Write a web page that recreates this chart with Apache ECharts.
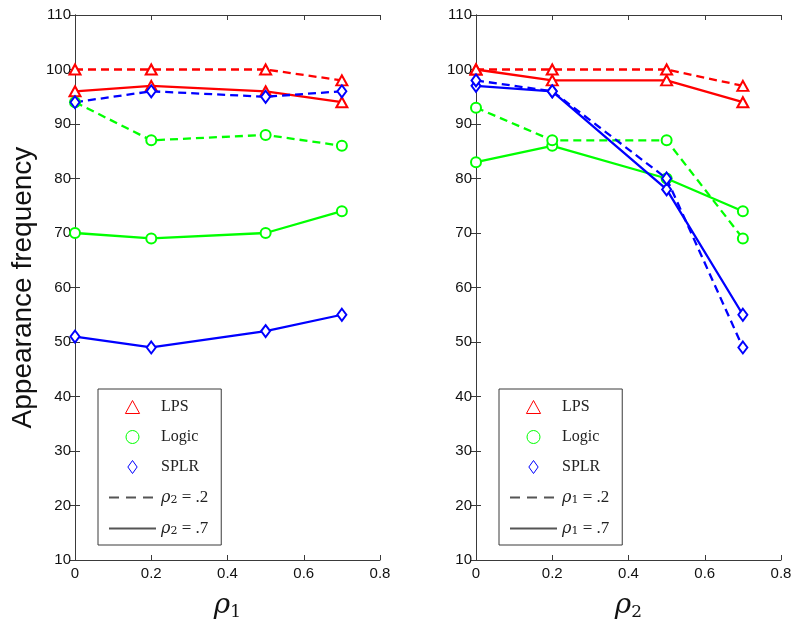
<!DOCTYPE html>
<html>
<head>
<meta charset="utf-8">
<script src="https://cdn.jsdelivr.net/npm/echarts@6/dist/echarts.min.js"></script>
<style>
  html, body { margin: 0; padding: 0; background: #fff; }
  #chart { width: 800px; height: 626px; }
</style>
</head>
<body>
<div id="chart"></div>
<script>
// x positions (rho values)
const xVals = [0, 0.2, 0.5, 0.7];
const xTicks = [0, 0.2, 0.4, 0.6, 0.8];
const yTicks = [10, 20, 30, 40, 50, 60, 70, 80, 90, 100, 110];

// left panel: x = rho1, dashed rho2 = .2, solid rho2 = .7
const lpsLeftDash = [100, 100, 100, 98];
const lpsLeftSolid = [96, 97, 96, 94];
const logicLeftDash = [94, 87, 88, 86];
const logicLeftSolid = [70, 69, 70, 74];
const splrLeftDash = [94, 96, 95, 96];
const splrLeftSolid = [51, 49, 52, 55];

// right panel: x = rho2, dashed rho1 = .2, solid rho1 = .7
const lpsRightDash = [100, 100, 100, 97];
const lpsRightSolid = [100, 98, 98, 94];
const logicRightDash = [93, 87, 87, 69];
const logicRightSolid = [83, 86, 80, 74];
const splrRightDash = [98, 96, 80, 49];
const splrRightSolid = [97, 96, 78, 55];

const RED = '#ff0000', GREEN = '#00ff00', BLUE = '#0000ff';
const AXIS = '#3a3a3a';
const DASH = [8, 5];
const CLEAR = 'rgba(0,0,0,0)';

const methods = [
  {name: 'LPS', color: RED, symbol: 'emptyTriangle', size: [11, 10]},
  {name: 'Logic', color: GREEN, symbol: 'emptyCircle', size: 10},
  {name: 'SPLR', color: BLUE, symbol: 'emptyDiamond', size: [9, 12]}
];

function pairs(ys) {
  return ys.map((y, i) => [xVals[i], y]);
}

function makeSeries(panel, m, ys, dashed) {
  return {
    name: m.name,
    type: 'line',
    xAxisIndex: panel * 2,
    yAxisIndex: panel * 2,
    data: pairs(ys),
    symbol: m.symbol,
    symbolSize: m.size,
    showAllSymbol: true,
    z: dashed ? 3 : 2,
    lineStyle: {color: m.color, width: 2.3, type: dashed ? DASH : 'solid'},
    itemStyle: {color: m.color, borderColor: m.color, borderWidth: 2.3},
    emphasis: {disabled: true}
  };
}

// empty series, only there to give the legend its line-style entries
function dummy(panel, name, dashed) {
  return {
    name: name,
    type: 'line',
    xAxisIndex: panel * 2,
    yAxisIndex: panel * 2,
    data: [],
    symbol: 'none',
    itemStyle: {color: CLEAR, borderColor: CLEAR, borderWidth: 0},
    lineStyle: {color: '#555', width: 1.2, type: dashed ? [10, 7] : 'solid'}
  };
}

const grids = [
  {left: 75, top: 15, width: 305, height: 556},
  {left: 476, top: 15, width: 305, height: 556}
];

function xAxes(panel, label) {
  return [
    {
      type: 'value', gridIndex: panel, min: 0, max: 0.8, interval: 0.2,
      name: label, nameLocation: 'middle', nameGap: 30,
      nameTextStyle: {
        rich: {
          r: {fontFamily: 'DejaVu Serif', fontStyle: 'italic', fontSize: 28, color: '#111'},
          s: {fontFamily: 'DejaVu Serif', fontSize: 17, color: '#111', padding: [14, 0, 0, 0]}
        }
      },
      axisLine: {lineStyle: {color: AXIS, width: 1}},
      axisTick: {inside: true, length: 5, lineStyle: {color: AXIS}},
      splitLine: {show: false},
      axisLabel: {
        margin: 6, fontFamily: 'Liberation Sans', fontSize: 15, color: '#111',
        formatter: v => xTicks.indexOf(+v.toFixed(1)) >= 0 ? String(+v.toFixed(1)) : ''
      }
    },
    {
      type: 'value', gridIndex: panel, position: 'top', min: 0, max: 0.8, interval: 0.2,
      axisLine: {lineStyle: {color: AXIS, width: 1}},
      axisTick: {inside: true, length: 5, lineStyle: {color: AXIS}},
      axisLabel: {show: false},
      splitLine: {show: false}
    }
  ];
}

function yAxes(panel, withName) {
  return [
    {
      type: 'value', gridIndex: panel, min: 10, max: 110, interval: 10,
      name: withName ? 'Appearance frequency' : '',
      nameLocation: 'middle', nameGap: 38,
      nameTextStyle: {fontFamily: 'Liberation Sans', fontSize: 28, color: '#111'},
      axisLine: {lineStyle: {color: AXIS, width: 1}},
      axisTick: {inside: true, length: 5, lineStyle: {color: AXIS}},
      splitLine: {show: false},
      axisLabel: {
        margin: 4, fontFamily: 'Liberation Sans', fontSize: 15, color: '#111',
        formatter: v => yTicks.indexOf(v) >= 0 ? String(v) : ''
      }
    },
    {
      type: 'value', gridIndex: panel, position: 'right', min: 10, max: 110, interval: 10,
      axisLine: {show: true, lineStyle: {color: AXIS, width: 1}},
      axisTick: {show: true, inside: true, length: 5, lineStyle: {color: AXIS}},
      axisLabel: {show: false},
      splitLine: {show: false}
    }
  ];
}

function legendFor(left, dashName, solidName) {
  return {
    orient: 'vertical',
    left: left,
    top: 389,
    padding: [10, 13, 8, 10],
    itemGap: 14,
    itemWidth: 47,
    itemHeight: 13,
    selectedMode: false,
    borderColor: AXIS,
    borderWidth: 1,
    backgroundColor: '#fff',
    textStyle: {
      fontFamily: 'Liberation Serif', fontSize: 16, color: '#222',
      rich: {
        r: {fontFamily: 'DejaVu Serif', fontStyle: 'italic', fontSize: 16, color: '#222'},
        s: {fontFamily: 'DejaVu Serif', fontSize: 11, color: '#222', padding: [6, 0, 0, 0]},
        t: {fontFamily: 'Liberation Serif', fontSize: 17, color: '#222'}
      }
    },
    formatter: function (name) {
      if (name.charAt(0) === 'ρ') {
        return '{r|ρ}{s|' + name.charAt(1) + '}{t| = ' + name.slice(name.indexOf('.')) + '}';
      }
      return name;
    },
    data: [
      {name: 'LPS', icon: 'path://M6,0 L12,11 L0,11 Z', itemStyle: {color: CLEAR, borderColor: RED, borderWidth: 1}},
      {name: 'Logic', icon: 'circle', itemStyle: {color: CLEAR, borderColor: GREEN, borderWidth: 1}},
      {name: 'SPLR', icon: 'path://M5,0 L10,7 L5,14 L0,7 Z', itemStyle: {color: CLEAR, borderColor: BLUE, borderWidth: 1}},
      {name: dashName, itemStyle: {color: CLEAR, borderColor: CLEAR, borderWidth: 0}},
      {name: solidName, itemStyle: {color: CLEAR, borderColor: CLEAR, borderWidth: 0}}
    ]
  };
}

const chartInstance = echarts.init(document.getElementById('chart'), null, {renderer: 'canvas'});

const series = [
  makeSeries(0, methods[0], lpsLeftSolid, false),
  makeSeries(0, methods[0], lpsLeftDash, true),
  makeSeries(0, methods[1], logicLeftSolid, false),
  makeSeries(0, methods[1], logicLeftDash, true),
  makeSeries(0, methods[2], splrLeftSolid, false),
  makeSeries(0, methods[2], splrLeftDash, true),
  dummy(0, 'ρ2 = .2', true),
  dummy(0, 'ρ2 = .7', false),
  makeSeries(1, methods[0], lpsRightSolid, false),
  makeSeries(1, methods[0], lpsRightDash, true),
  makeSeries(1, methods[1], logicRightSolid, false),
  makeSeries(1, methods[1], logicRightDash, true),
  makeSeries(1, methods[2], splrRightSolid, false),
  makeSeries(1, methods[2], splrRightDash, true),
  dummy(1, 'ρ1 = .2', true),
  dummy(1, 'ρ1 = .7', false)
];

const option = {
  animation: false,
  backgroundColor: '#fff',
  grid: grids,
  xAxis: [].concat(xAxes(0, '{r|ρ}{s|1}'), xAxes(1, '{r|ρ}{s|2}')),
  yAxis: [].concat(yAxes(0, true), yAxes(1, false)),
  legend: [
    legendFor(98, 'ρ2 = .2', 'ρ2 = .7'),
    legendFor(499, 'ρ1 = .2', 'ρ1 = .7')
  ],
  series: series
};

chartInstance.setOption(option, true);
</script>
</body>
</html>
